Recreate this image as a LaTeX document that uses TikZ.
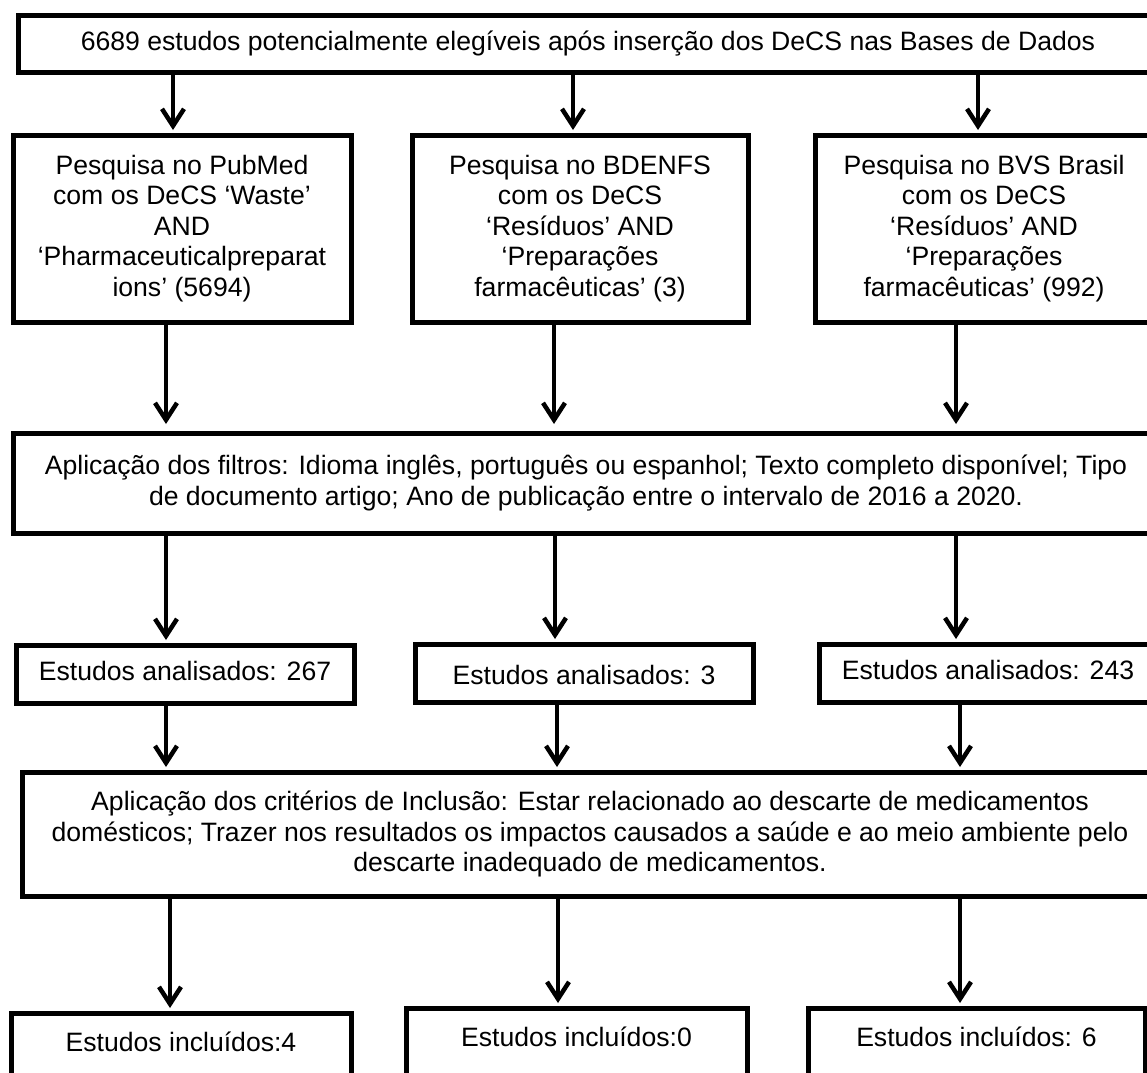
\documentclass[tikz,border=0pt]{standalone}
\usepackage{fontspec}
\setmainfont{Liberation Sans}
\usetikzlibrary{arrows.meta}
\newcommand{\fz}{\fontsize{26.6}{30.5}\selectfont}
\begin{document}
\begin{tikzpicture}[x=1pt,y=-1pt,
  box/.style={draw, line width=5pt, align=center, inner sep=0pt, outer sep=0pt, font=\fz},
  onebox/.style={box, text height=19pt, text depth=5.5pt},
  openbox/.style={box, anchor=north, text height=38.5pt, text depth=60pt},
  arr/.style={line width=4.5pt, -{Straight Barb[length=17pt,width=22pt]}, shorten >=5pt},
]
\useasboundingbox (0,0) rectangle (1147,1072);
\fill[white] (0,0) rectangle (1147,1072);
\clip (0,0) rectangle (1147,1072);

% row 1
\node[onebox, minimum width=1140pt, minimum height=57pt] (top) at (588,43.5)
  {6689 estudos potencialmente elegíveis após inserção dos DeCS nas Bases de Dados};

% row 2
\node[box, minimum width=338pt, minimum height=187pt] (pub) at (182,228.5)
  {Pesquisa no PubMed\\com os DeCS ‘Waste’\\AND\\‘Pharmaceuticalpreparat\\ions’ (5694)};
\node[box, minimum width=336pt, minimum height=187pt] (bde) at (580,228.5)
  {Pesquisa no BDENFS\\com os DeCS\\‘Resíduos’ AND\\‘Preparações\\farmacêuticas’ (3)};
\node[box, minimum width=338pt, minimum height=187pt] (bvs) at (984,228.5)
  {Pesquisa no BVS Brasil\\com os DeCS\\‘Resíduos’ AND\\‘Preparações\\farmacêuticas’ (992)};

% row 3
\node[box, minimum width=1146pt, minimum height=100pt] (filt) at (586,483)
  {Aplicação dos filtros: Idioma inglês, português ou espanhol; Texto completo disponível; Tipo\\de documento artigo; Ano de publicação entre o intervalo de 2016 a 2020.};

% row 4
\node[onebox, minimum width=338pt, minimum height=58pt] (an1) at (185,674) {Estudos analisados: 267};
\node[onebox, minimum width=338pt, minimum height=58pt] (an2) at (584,673) {\raisebox{-5pt}{Estudos analisados: 3}};
\node[onebox, minimum width=338pt, minimum height=58pt] (an3) at (988,673) {Estudos analisados: 243};

% row 5
\node[box, minimum width=1136pt, minimum height=124pt] (crit) at (590,834)
  {Aplicação dos critérios de Inclusão: Estar relacionado ao descarte de medicamentos\\domésticos; Trazer nos resultados os impactos causados a saúde e ao meio ambiente pelo\\descarte inadequado de medicamentos.};

% row 6
\node[openbox, minimum width=340pt] (in1) at (181,1013) {Estudos incluídos:4};
\node[openbox, minimum width=341pt] (in2) at (576.5,1008) {Estudos incluídos:0};
\node[openbox, minimum width=337pt] (in3) at (976.5,1008) {Estudos incluídos: 6};

% arrow columns
\coordinate (a1) at (173,0);  \coordinate (a2) at (573,0);  \coordinate (a3) at (978,0);
\coordinate (b1) at (166,0);  \coordinate (b2) at (554,0);  \coordinate (b3) at (956,0);
\coordinate (c1) at (166,0);  \coordinate (c2) at (555,0);  \coordinate (c3) at (956,0);
\coordinate (d1) at (166,0);  \coordinate (d2) at (557,0);  \coordinate (d3) at (960,0);
\coordinate (e1) at (170,0);  \coordinate (e2) at (558,0);  \coordinate (e3) at (960,0);

\draw[arr] (top.south -| a1) -- (pub.north -| a1);
\draw[arr] (top.south -| a2) -- (bde.north -| a2);
\draw[arr] (top.south -| a3) -- (bvs.north -| a3);

\draw[arr, shorten >=9pt] (pub.south -| b1) -- (filt.north -| b1);
\draw[arr, shorten >=9pt] (bde.south -| b2) -- (filt.north -| b2);
\draw[arr, shorten >=9pt] (bvs.south -| b3) -- (filt.north -| b3);

\draw[arr] (filt.south -| c1) -- (an1.north -| c1);
\draw[arr] (filt.south -| c2) -- (an2.north -| c2);
\draw[arr] (filt.south -| c3) -- (an3.north -| c3);

\draw[arr] (an1.south -| d1) -- (crit.north -| d1);
\draw[arr] (an2.south -| d2) -- (crit.north -| d2);
\draw[arr] (an3.south -| d3) -- (crit.north -| d3);

\draw[arr] (crit.south -| e1) -- (in1.north -| e1);
\draw[arr] (crit.south -| e2) -- (in2.north -| e2);
\draw[arr] (crit.south -| e3) -- (in3.north -| e3);
\end{tikzpicture}
\end{document}
